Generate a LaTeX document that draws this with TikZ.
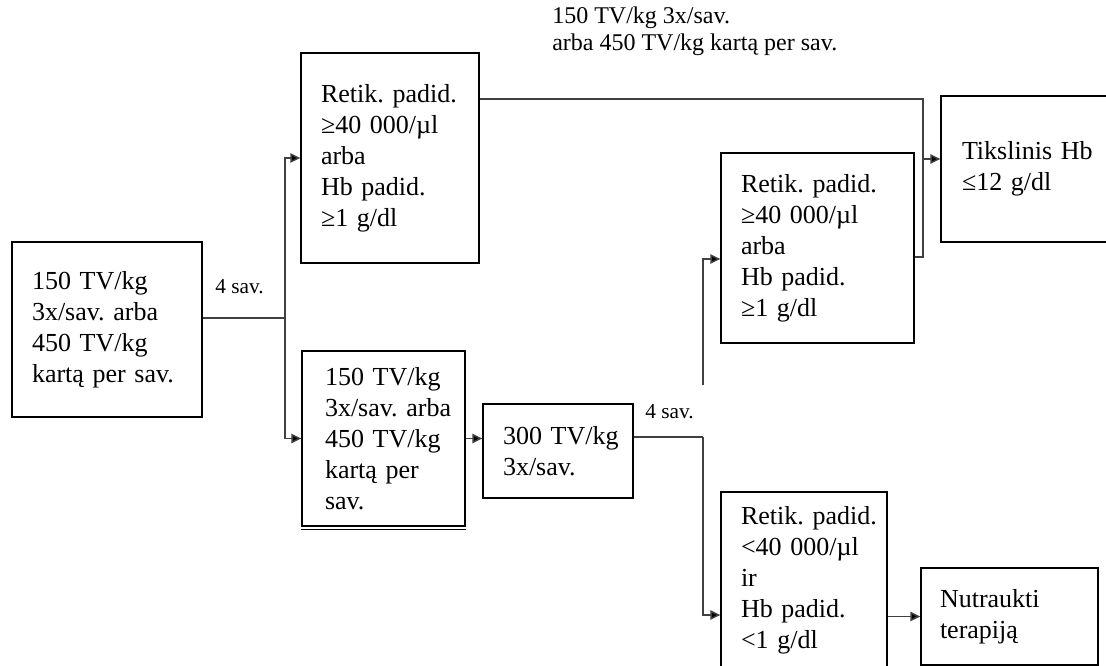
\documentclass[tikz,border=0pt]{standalone}
\usepackage{fontspec}
\setmainfont{Liberation Serif}
\usetikzlibrary{arrows.meta}
\begin{document}
\hyphenpenalty=10000
\exhyphenpenalty=10000
\begin{tikzpicture}[x=0.75pt,y=-0.75pt,
  box/.style={draw=black, line width=1pt, align=left, inner xsep=15pt, inner ysep=0pt,
    font=\fontsize{19.5}{23.25}\selectfont},
  conn/.style={draw=black!75, line width=1.1pt},
  arr/.style={conn, -{Triangle[length=7.5pt,width=7pt,fill=black]}},
  lbl/.style={inner sep=0pt, font=\fontsize{16}{19}\selectfont}]
\clip (0,0) rectangle (1106,666);
\fill[white] (0,0) rectangle (1106,666);

% boxes
\node[box, minimum width=142.5pt, minimum height=131.25pt, text width=112.5pt] (L) at (107,329.5)
  {150~TV/kg\\3x/sav.~arba\\450~TV/kg\\kartą~per~sav.};
\node[box, minimum width=133.5pt, minimum height=157.5pt, text width=103.5pt] (R1) at (390,158)
  {Retik.~padid.\\≥40~000/µl\\arba\\Hb~padid.\\≥1~g/dl};
\node[box, inner xsep=17.25pt, minimum width=122.25pt, minimum height=131.25pt, text width=87.75pt] (B2) at (383.5,438.5)
  {150~TV/kg\\3x/sav.~arba\\450~TV/kg\\kartą~per\\sav.};
\node[box, minimum width=112.5pt, minimum height=70.5pt, text width=82.5pt] (T300) at (558,451)
  {300~TV/kg\\3x/sav.};
\node[box, minimum width=144.75pt, minimum height=142.5pt, text width=114.75pt] (R2) at (817.5,248)
  {Retik.~padid.\\≥40~000/µl\\arba\\Hb~padid.\\≥1~g/dl};
\node[box, minimum width=124.5pt, minimum height=132pt, text width=94.5pt] (R3) at (804,580)
  {\mbox{Retik.~padid.}\\<40~000/µl\\ir\\\mbox{Hb~padid.}\\<1~g/dl};
\node[box, inner xsep=15.75pt, minimum width=134.25pt, minimum height=109.5pt, text width=102.75pt] (Tik) at (1030.5,169)
  {Tikslinis~Hb\\≤12~g/dl};
\node[box, inner xsep=14.25pt, minimum width=132.75pt, minimum height=72.75pt, text width=104.25pt] (Nut) at (1009.5,616.5)
  {Nutraukti\\terapiją};
\draw[line width=0.8pt] ([yshift=-2.2pt]B2.south west) -- ([yshift=-2.2pt]B2.south east);

% connectors
\coordinate (j1) at (285,318);
\draw[conn] (j1 -| L.east) -- (j1);
\draw[arr] (j1) |- (R1.west);
\draw[arr] (j1) |- (B2.west);
\draw[arr] (B2.east) -- (B2.east -| T300.west);
\coordinate (j2) at (703,437);
\draw[conn] (j2 -| T300.east) -- (j2);
\coordinate (r3in) at (R3.west |- 0,615);
\draw[arr] (j2) |- (r3in);
\coordinate (j2t) at (703,385);
\coordinate (r2in) at (R2.west |- 0,259);
\draw[arr] (j2t) |- (r2in);
\draw[arr] (Nut.west -| R3.east) -- (Nut.west);
\coordinate (j3b) at (923,257);
\coordinate (j3t) at (923,99);
\coordinate (j3m) at (923,159);
\draw[conn] (j3b -| R2.east) -- (j3b) -- (j3t) -- (j3t -| R1.east);
\draw[arr] (j3m) -- (j3m -| Tik.west);

% labels
\node[lbl, anchor=west] (s1) at (215,287) {4 sav.};
\node[lbl, anchor=west] (s2) at (645,412) {4 sav.};
\node[inner sep=0pt, anchor=west, align=left, font=\fontsize{18}{20.25}\selectfont] (top) at (552,31)
  {150 TV/kg 3x/sav.\\arba 450 TV/kg kartą per sav.};
\end{tikzpicture}
\end{document}
